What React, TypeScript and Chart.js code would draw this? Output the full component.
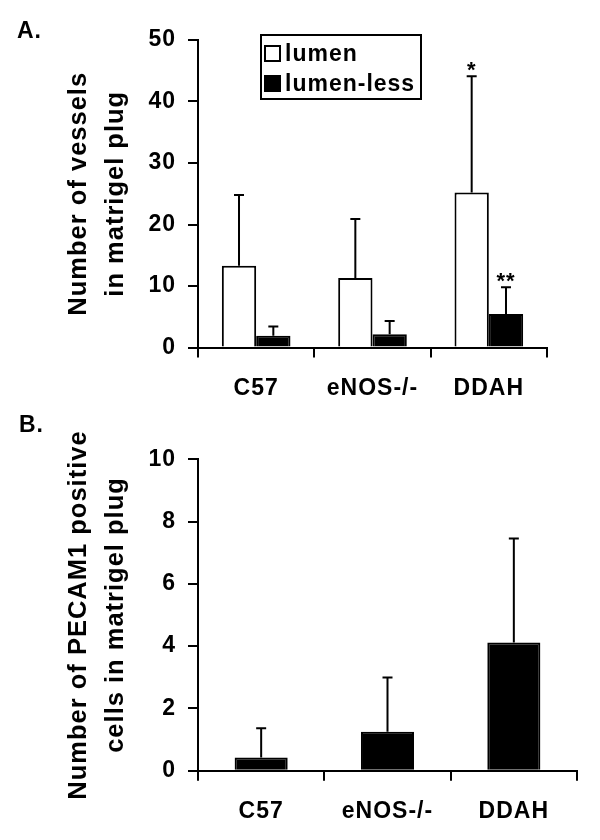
import React, { useEffect, useRef } from "react";
import { Chart, registerables } from "chart.js";

Chart.register(...registerables);

const FONT = "'Liberation Sans', Arial, Helvetica, sans-serif";

// ---- Panel A data ----
const groups = ["C57", "eNOS-/-", "DDAH"];
const seriesA = ["lumen", "lumen-less"];
const lumenMeans = [13.3, 11.3, 25.2];
const lumenErrors = [11.5, 9.6, 18.9];
const lumenMarks = ["", "", "*"];
const lumenLessMeans = [1.9, 2.15, 5.45];
const lumenLessErrors = [1.5, 2.15, 4.35];
const lumenLessMarks = ["", "", "**"];
const yTicksA = [0, 10, 20, 30, 40, 50];
const yTitleA = ["Number of vessels", "in matrigel plug"];

// ---- Panel B data ----
const pecamMeans = [0.42, 1.25, 4.12];
const pecamErrors = [0.94, 1.74, 3.34];
const yTicksB = [0, 2, 4, 6, 8, 10];
const yTitleB = ["Number of PECAM1 positive", "cells in matrigel plug"];

const spacingPlugin = {
  id: "letterSpacing",
  beforeUpdate(chart: any) {
    (chart.ctx as any).letterSpacing = "1px";
  },
  beforeDraw(chart: any) {
    (chart.ctx as any).letterSpacing = "1px";
  },
};

const errorBarPlugin = {
  id: "errorBars",
  afterDatasetsDraw(chart: any) {
    const ctx = chart.ctx;
    const yScale = chart.scales.y;
    chart.data.datasets.forEach((ds: any, di: number) => {
      const meta = chart.getDatasetMeta(di);
      const errs: number[] = ds.errorBars || [];
      const marks: string[] = ds.marks || [];
      meta.data.forEach((bar: any, i: number) => {
        const v = ds.data[i];
        const e = errs[i] || 0;
        const yTop = yScale.getPixelForValue(v + e);
        const x = bar.x;
        ctx.save();
        ctx.strokeStyle = "#000";
        ctx.lineWidth = 2;
        ctx.beginPath();
        ctx.moveTo(x, bar.y);
        ctx.lineTo(x, yTop);
        ctx.moveTo(x - 5, yTop);
        ctx.lineTo(x + 5, yTop);
        ctx.stroke();
        if (marks[i]) {
          ctx.fillStyle = "#000";
          ctx.font = `bold 22px ${FONT}`;
          ctx.textAlign = "center";
          ctx.textBaseline = "alphabetic";
          ctx.fillText(marks[i], x, yTop + 1);
        }
        ctx.restore();
      });
    });
  },
};

const panelLabelPlugin = {
  id: "panelLabel",
  afterDraw(chart: any, _args: any, opts: any) {
    if (!opts || !opts.text) return;
    const ctx = chart.ctx;
    ctx.save();
    ctx.fillStyle = "#000";
    ctx.font = `bold 23px ${FONT}`;
    ctx.textAlign = "left";
    ctx.textBaseline = "alphabetic";
    ctx.fillText(opts.text, opts.x, opts.y);
    ctx.restore();
  },
};

const boxLegendPlugin = {
  id: "boxLegend",
  afterDraw(chart: any, _args: any, opts: any) {
    if (!opts || !opts.display) return;
    const ctx = chart.ctx;
    const { x, y, w, h, rowH, sq, textX } = opts;
    ctx.save();
    ctx.strokeStyle = "#000";
    ctx.lineWidth = 2;
    ctx.fillStyle = "#fff";
    ctx.fillRect(x, y, w, h);
    ctx.strokeRect(x, y, w, h);
    ctx.font = `bold 23px ${FONT}`;
    ctx.textBaseline = "middle";
    ctx.textAlign = "left";
    chart.data.datasets.forEach((ds: any, i: number) => {
      const cy = y + 18.5 + i * rowH;
      ctx.fillStyle = ds.backgroundColor;
      ctx.fillRect(x + 4, cy - sq / 2, sq, sq);
      ctx.strokeStyle = "#000";
      ctx.lineWidth = 2;
      ctx.strokeRect(x + 4, cy - sq / 2, sq, sq);
      ctx.fillStyle = "#000";
      ctx.fillText(ds.label, textX, cy + 1);
    });
    ctx.restore();
  },
};

function makeOptions(
  yTicks: number[],
  yTitle: string[],
  xHeight: number,
  padTop: number,
  padRight: number,
  label: any,
  legend: any
) {
  const tickFont = { family: FONT, size: 23, weight: "bold" as const };
  return {
    responsive: false,
    animation: false as const,
    layout: { padding: { top: padTop, right: padRight, left: 0, bottom: 0 } },
    plugins: {
      legend: { display: false },
      tooltip: { enabled: false },
      panelLabel: label,
      boxLegend: legend,
    },
    scales: {
      x: {
        offset: true,
        ticks: { color: "#000", font: tickFont, padding: 17, maxRotation: 0 },
        grid: {
          offset: true,
          drawOnChartArea: false,
          tickLength: 10,
          color: "#000",
          lineWidth: 2,
        },
        border: { color: "#000", width: 2 },
        afterFit: (s: any) => {
          s.height = xHeight;
        },
      },
      y: {
        min: yTicks[0],
        max: yTicks[yTicks.length - 1],
        afterBuildTicks: (s: any) => {
          s.ticks = yTicks.map((v) => ({ value: v }));
        },
        ticks: { color: "#000", font: tickFont, padding: 12 },
        grid: {
          drawOnChartArea: false,
          tickLength: 10,
          color: "#000",
          lineWidth: 2,
        },
        border: { color: "#000", width: 2 },
        title: {
          display: true,
          text: yTitle,
          color: "#000",
          font: { family: FONT, size: 25.5, weight: "bold" as const, lineHeight: 37 / 25.5 },
          padding: { top: 60, bottom: 0 },
        },
        afterFit: (s: any) => {
          s.width = 198;
        },
      },
    },
  };
}

export default function App() {
  const refA = useRef<HTMLCanvasElement | null>(null);
  const refB = useRef<HTMLCanvasElement | null>(null);

  useEffect(() => {
    const chartA = new Chart(refA.current as HTMLCanvasElement, {
      type: "bar",
      data: {
        labels: groups,
        datasets: [
          {
            label: seriesA[0],
            data: lumenMeans,
            errorBars: lumenErrors,
            marks: lumenMarks,
            backgroundColor: "#ffffff",
            borderColor: "#000000",
            borderWidth: 2,
            categoryPercentage: 0.59,
            barPercentage: 1.0,
          } as any,
          {
            label: seriesA[1],
            data: lumenLessMeans,
            errorBars: lumenLessErrors,
            marks: lumenLessMarks,
            backgroundColor: "#000000",
            borderColor: "#000000",
            borderWidth: 2,
            categoryPercentage: 0.59,
            barPercentage: 1.0,
          } as any,
        ],
      },
      options: makeOptions(
        yTicksA,
        yTitleA,
        405 - 347.5,
        40,
        53,
        { text: "A.", x: 17, y: 38 },
        { display: true, x: 261, y: 35, w: 160, h: 64, rowH: 30, sq: 15, textX: 285 }
      ) as any,
      plugins: [spacingPlugin, errorBarPlugin, panelLabelPlugin, boxLegendPlugin],
    });

    const chartB = new Chart(refB.current as HTMLCanvasElement, {
      type: "bar",
      data: {
        labels: groups,
        datasets: [
          {
            label: "PECAM1",
            data: pecamMeans,
            errorBars: pecamErrors,
            backgroundColor: "#000000",
            borderColor: "#000000",
            borderWidth: 2,
            categoryPercentage: 0.42,
            barPercentage: 1.0,
          } as any,
        ],
      },
      options: makeOptions(
        yTicksB,
        yTitleB,
        435 - 365.7,
        54.3,
        23,
        { text: "B.", x: 19, y: 27 },
        { display: false }
      ) as any,
      plugins: [spacingPlugin, errorBarPlugin, panelLabelPlugin, boxLegendPlugin],
    });

    return () => {
      chartA.destroy();
      chartB.destroy();
    };
  }, []);

  return (
    <div
      style={{
        position: "absolute",
        left: 0,
        top: 0,
        width: 600,
        height: 840,
        background: "#fff",
      }}
    >
      <canvas
        ref={refA}
        width={600}
        height={405}
        style={{ position: "absolute", left: 0, top: 0, width: 600, height: 405 }}
      />
      <canvas
        ref={refB}
        width={600}
        height={435}
        style={{ position: "absolute", left: 0, top: 405, width: 600, height: 435 }}
      />
    </div>
  );
}
